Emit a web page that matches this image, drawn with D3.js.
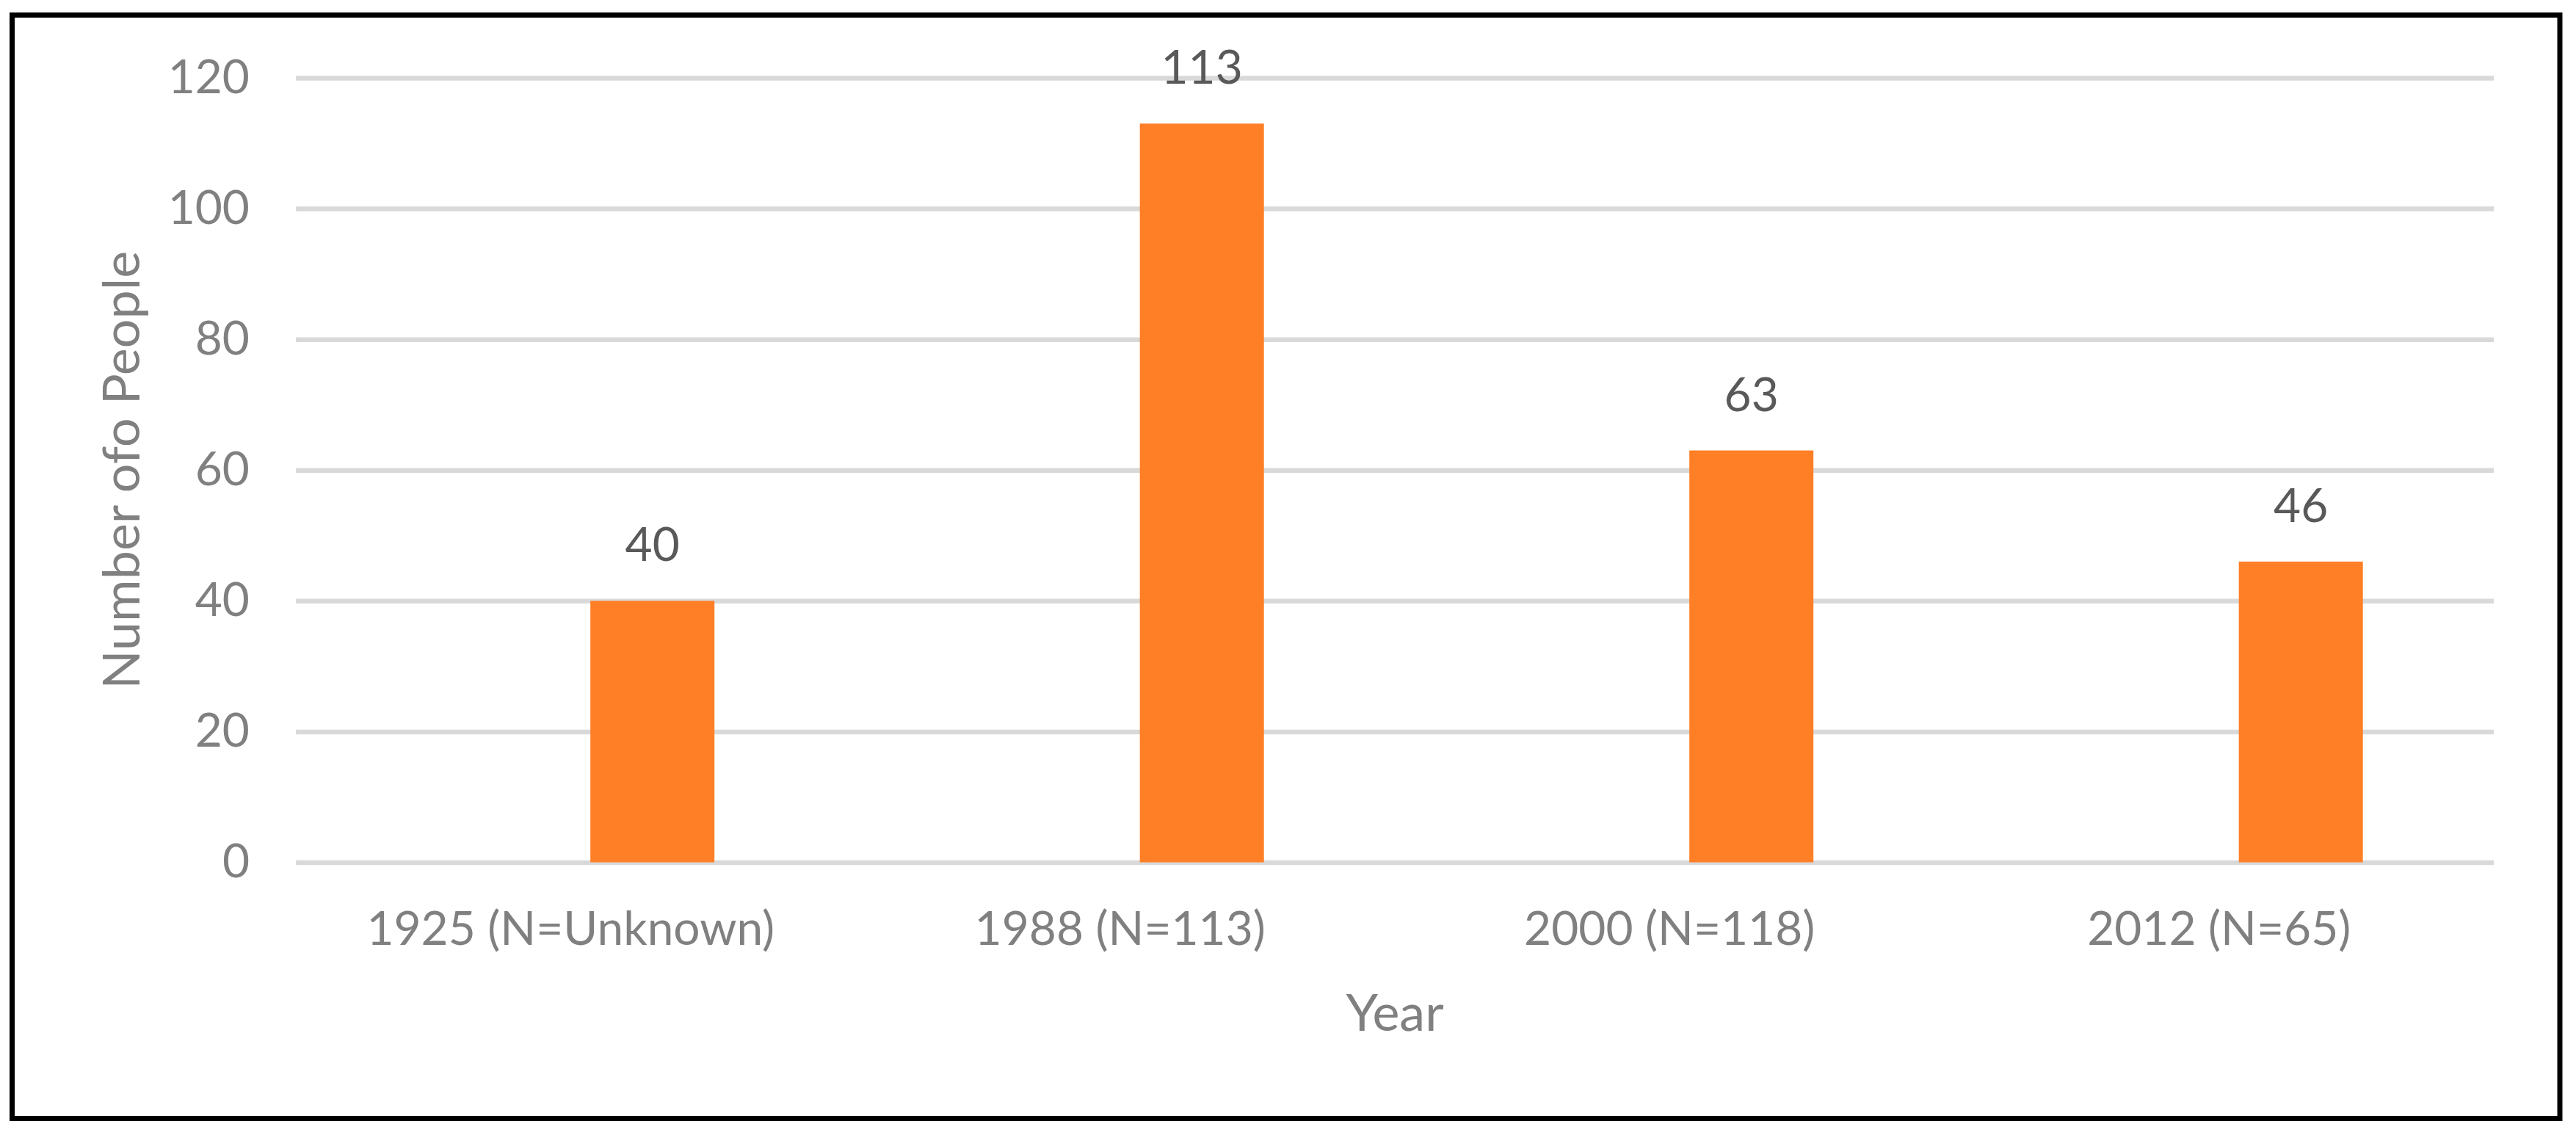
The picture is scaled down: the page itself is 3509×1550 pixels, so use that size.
<!DOCTYPE html>
<html>
<head>
<meta charset="utf-8">
<script src="https://cdn.jsdelivr.net/npm/d3@7"></script>
<style>
  html, body { margin: 0; padding: 0; background: #fff; }
  svg { display: block; }
  text { font-family: Lato, "Open Sans", "Noto Sans", sans-serif; }
</style>
</head>
<body>
<div id="chart"></div>
<script>
// ---- data ----
const categories = ["1925 (N=Unknown)", "1988 (N=113)", "2000 (N=118)", "2012 (N=65)"];
const values = [40, 113, 63, 46];
const yTicks = [0, 20, 40, 60, 80, 100, 120];
const yTitle = "Number ofo People";
const xTitle = "Year";

// ---- layout ----
const W = 3509, H = 1550;
const plot = { left: 403, right: 3397, top: 106, bottom: 1174.5 };

const svg = d3.select("#chart").append("svg")
  .attr("width", W).attr("height", H);

svg.append("rect").attr("width", W).attr("height", H).attr("fill", "#fff");

// outer border
svg.append("rect")
  .attr("x", 16.5).attr("y", 20.5)
  .attr("width", 3487 - 16.5).attr("height", 1523.5 - 20.5)
  .attr("fill", "none").attr("stroke", "#000").attr("stroke-width", 7);

const x = d3.scaleBand().domain(categories).range([plot.left, plot.right]).padding(0);
const y = d3.scaleLinear().domain([0, 120]).range([plot.bottom, plot.top]);

// gridlines
const grid = svg.append("g")
  .attr("transform", `translate(${plot.left},0)`)
  .call(d3.axisLeft(y).tickValues(yTicks).tickSize(-(plot.right - plot.left)).tickFormat(""));
grid.select(".domain").remove();
grid.selectAll(".tick line").attr("stroke", "#d9d9d9").attr("stroke-width", 6.5);

// y tick labels
const yAx = svg.append("g")
  .attr("transform", `translate(${plot.left},0)`)
  .call(d3.axisLeft(y).tickValues(yTicks).tickSize(0).tickPadding(63));
yAx.select(".domain").remove();
yAx.selectAll("text")
  .attr("fill", "#808080").style("font-size", "64px")
  .style("font-family", "Lato, 'Open Sans', sans-serif");

// bars (series sits in the right half of each category cluster)
const barOffset = 0.536, barWidth = 0.2258;
svg.append("g").selectAll("rect")
  .data(values)
  .join("rect")
  .attr("x", (d, i) => x(categories[i]) + x.bandwidth() * barOffset)
  .attr("width", x.bandwidth() * barWidth)
  .attr("y", d => y(d))
  .attr("height", d => y(0) - y(d))
  .attr("fill", "#ff7f27");

// value labels
svg.append("g").selectAll("text")
  .data(values)
  .join("text")
  .attr("x", (d, i) => x(categories[i]) + x.bandwidth() * (barOffset + barWidth / 2))
  .attr("y", d => y(d) - 54)
  .attr("text-anchor", "middle")
  .attr("fill", "#595959")
  .style("font-size", "64px")
  .text(d => d);

// x category labels
const xAx = svg.append("g")
  .attr("transform", `translate(0,${plot.bottom})`)
  .call(d3.axisBottom(x).tickSize(0).tickPadding(0));
xAx.select(".domain").remove();
xAx.selectAll("text")
  .attr("y", 1287 - plot.bottom).attr("dy", null)
  .attr("fill", "#808080").style("font-size", "64px")
  .style("font-family", "Lato, 'Open Sans', sans-serif");

// axis titles
svg.append("text")
  .attr("x", (plot.left + plot.right) / 2).attr("y", 1404)
  .attr("text-anchor", "middle")
  .attr("fill", "#808080").style("font-size", "70px")
  .text(xTitle);

svg.append("text")
  .attr("transform", `translate(190,${(plot.top + plot.bottom) / 2}) rotate(-90)`)
  .attr("text-anchor", "middle")
  .attr("fill", "#808080").style("font-size", "70px")
  .text(yTitle);
</script>
</body>
</html>
